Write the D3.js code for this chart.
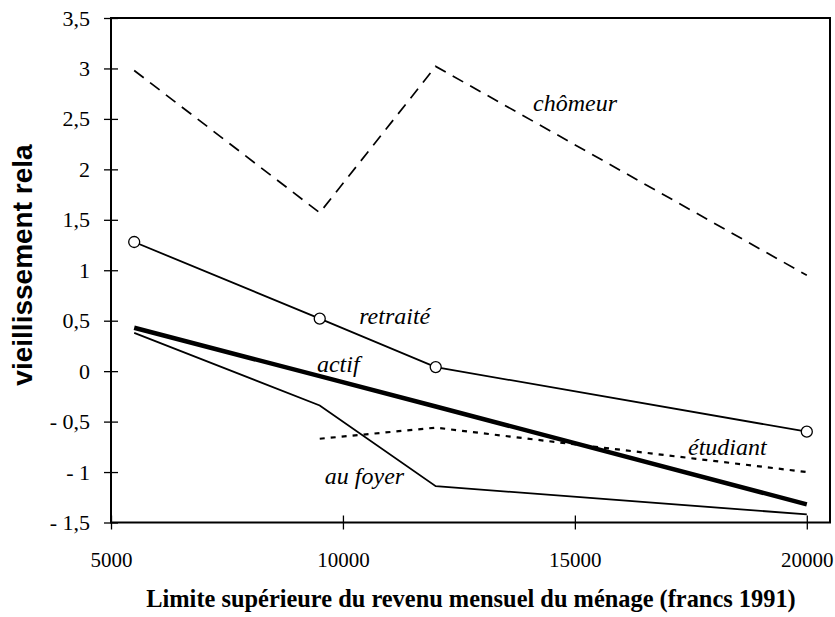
<!DOCTYPE html>
<html><head><meta charset="utf-8">
<script src="https://cdn.jsdelivr.net/npm/d3@7"></script>
<style>body{margin:0;background:#fff}</style>
</head><body>
<svg id="c" width="835" height="617"></svg>
<script>
const incomes = [5500, 9500, 12000, 20000];
const chomeur = [2.98, 1.57, 3.02, 0.95];
const retraite = [1.28, 0.52, 0.04, -0.60];
const actif = [0.43, -0.05, -0.35, -1.32];
const auFoyer = [0.38, -0.34, -1.14, -1.42];
const etudiant = [null, -0.67, -0.56, -1.0];
const xTicks = [5000, 10000, 15000, 20000];
const yTicks = [-1.5, -1, -0.5, 0, 0.5, 1, 1.5, 2, 2.5, 3, 3.5];
const labels = [
  {t: "chômeur", x: 14100, y: 2.58},
  {t: "retraité", x: 10350, y: 0.47},
  {t: "actif", x: 9440, y: -0.01},
  {t: "étudiant", x: 17440, y: -0.83},
  {t: "au foyer", x: 9610, y: -1.12}
];

const SERIF = "'Liberation Serif', 'Times New Roman', serif";
const SANS = "'Liberation Sans', Arial, sans-serif";

const svg = d3.select("#c");
const x = d3.scaleLinear().domain([5000, 20500]).range([111, 830]);
const y = d3.scaleLinear().domain([-1.5, 3.5]).range([522.5, 18]);
const fmt = v => { let s = String(v).replace(".", ","); return v < 0 ? "- " + s.slice(1) : s; };

svg.append("rect").attr("x", x(5000)).attr("y", y(3.5))
  .attr("width", x(20500) - x(5000)).attr("height", y(-1.5) - y(3.5))
  .attr("fill", "none").attr("stroke", "#000").attr("stroke-width", 2);

const ya = svg.append("g").attr("transform", `translate(${x(5000)},0)`)
  .call(d3.axisLeft(y).tickValues(yTicks).tickFormat(fmt).tickSize(7).tickPadding(14));
ya.attr("font-family", null).attr("font-size", null);
ya.select(".domain").remove();
ya.selectAll(".tick line").attr("x1", 7).attr("x2", -7).attr("stroke-width", 1.3);
ya.selectAll(".tick text").attr("font-family", SERIF).attr("font-size", "22px").attr("fill", "#000");

const xa = svg.append("g").attr("transform", `translate(0,${y(-1.5)})`)
  .call(d3.axisBottom(x).tickValues(xTicks).tickFormat(d => String(d)).tickSize(7).tickPadding(23));
xa.attr("font-family", null).attr("font-size", null);
xa.select(".domain").remove();
xa.selectAll(".tick line").attr("y1", -7).attr("y2", 7).attr("stroke-width", 1.3);
xa.selectAll(".tick text").attr("font-family", SERIF).attr("font-size", "21px").attr("fill", "#000");

const line = d3.line().defined(d => d[1] !== null).x(d => x(d[0])).y(d => y(d[1]));
const pts = arr => incomes.map((v, i) => [v, arr[i]]);

const g = svg.append("g").attr("fill", "none").attr("stroke", "#000");
g.append("path").attr("d", line(pts(chomeur))).attr("stroke-width", 1.7).attr("stroke-dasharray", "12,8");
g.append("path").attr("d", line(pts(etudiant))).attr("stroke-width", 2.2).attr("stroke-dasharray", "5,6");
g.append("path").attr("d", line(pts(auFoyer))).attr("stroke-width", 1.8);
g.append("path").attr("d", line(pts(actif))).attr("stroke-width", 4.5);
g.append("path").attr("d", line(pts(retraite))).attr("stroke-width", 1.8);
svg.append("g").selectAll("circle").data(pts(retraite)).join("circle")
  .attr("cx", d => x(d[0])).attr("cy", d => y(d[1])).attr("r", 5.5)
  .attr("fill", "#fff").attr("stroke", "#000").attr("stroke-width", 1.3);

svg.append("g").selectAll("text").data(labels).join("text")
  .attr("x", d => x(d.x)).attr("y", d => y(d.y))
  .attr("font-family", SERIF).attr("font-style", "italic").attr("font-size", "24px")
  .text(d => d.t);

svg.append("text").attr("transform", "translate(32,265) rotate(-90)")
  .attr("text-anchor", "middle").attr("font-family", SANS).attr("font-weight", "bold")
  .attr("font-size", "28px").text("vieillissement rela");

svg.append("text").attr("x", 471).attr("y", 607).attr("text-anchor", "middle")
  .attr("font-family", SERIF).attr("font-weight", "bold").attr("font-size", "24.4px")
  .text("Limite supérieure du revenu mensuel du ménage (francs 1991)");
</script>
</body></html>
